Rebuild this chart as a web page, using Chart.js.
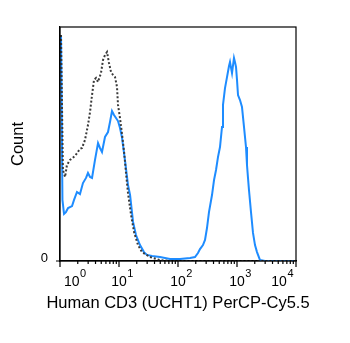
<!DOCTYPE html>
<html>
<head>
<meta charset="utf-8">
<script src="https://cdn.jsdelivr.net/npm/chart.js@4/dist/chart.umd.min.js"></script>
<style>
  html, body { margin: 0; padding: 0; background: #fff; }
  canvas { display: block; }
</style>
</head>
<body>
<canvas id="histo" width="350" height="343"></canvas>
<script>
// ---- values (x = fluorescence, y = % of max count) ----
const stainedX = [1.04, 1.10, 1.17, 1.26, 1.37, 1.60, 1.73, 1.94, 2.18, 2.45, 2.76, 2.98, 3.23, 3.49, 3.92, 4.41, 4.76, 5.15, 5.79, 6.51,
  7.04, 7.61, 8.23, 8.90, 9.62, 10.4, 11.2, 12.6, 14.2, 15.4, 17.3, 19.4, 22.7, 26.5, 29.8, 36.3, 49.5, 73.2, 108, 160,
  194, 218, 236, 265, 287, 310, 335, 377, 408, 441, 476, 515, 557, 579, 626, 677, 732, 761, 823, 889,
  925, 962, 1000, 1040, 1124, 1215, 1314, 1421, 1477, 1536, 1597, 1727, 1867, 2019, 2183, 2454, 2983, 10000];
const stainedY = [96.6, 26.1, 20.1, 20.9, 22.6, 23.5, 26.1, 29.5, 28.6, 33.3, 35.5, 37.6, 35.9, 35.5, 43.2, 50.4, 48.3, 46.6, 53.0, 55.1,
  59.4, 64.1, 62.4, 61.1, 59.8, 56.8, 53.0, 43.2, 32.5, 28.2, 16.7, 11.1, 6.8, 3.8, 2.6, 2.1, 1.7, 0.9, 0.9, 1.3,
  1.7, 3.4, 5.1, 6.8, 9.0, 14.1, 20.9, 28.2, 34.6, 38.9, 44.4, 48.7, 57.3, 66.7, 73.9, 78.6, 83.3, 85.0, 80.3, 86.8,
  85.0, 82.9, 77.4, 70.9, 68.8, 65.8, 57.3, 48.7, 41.0, 35.5, 30.3, 20.9, 12.0, 6.8, 3.8, 0.4, 0, 0];

// isotype / unstained control (dotted)
const controlX = [1.04, 1.12, 1.22, 1.31, 1.48, 1.80, 2.18, 2.36, 2.65, 2.98, 3.23, 3.49, 3.77, 4.08, 4.41, 4.95, 5.36, 5.79, 6.26, 6.77,
  7.32, 7.91, 8.56, 9.25, 9.62, 10.4, 11.2, 12.2, 13.1, 14.2, 16.0, 18.0, 21.0, 24.5, 33.5, 49.5, 73.2, 10000];
const controlY = [96.6, 38.9, 35.9, 41.0, 43.2, 44.9, 47.9, 48.3, 51.7, 58.1, 63.7, 70.9, 77.4, 78.2, 76.5, 80.3, 85.9, 88.0, 89.3, 84.6,
  80.8, 79.5, 78.6, 74.4, 66.7, 61.1, 54.7, 46.6, 38.0, 29.1, 19.7, 12.4, 6.8, 3.8, 1.7, 0.4, 0, 0];

const decadeTicks = [1, 10, 100, 1000, 10000];
const decadeExponents = ['0', '1', '2', '3', '4'];
const yTickValues = [0];
const yTickLabels = ['0'];
const xTitle = 'Human CD3 (UCHT1) PerCP-Cy5.5';
const yTitle = 'Count';

const fontFam = '"Liberation Sans", Arial, sans-serif';

function toPoints(xs, ys) {
  return xs.map(function(x, i) { return { x: x, y: ys[i] }; });
}

// frame, log tick marks, "10^n" labels and axis titles
const axisDecor = {
  id: 'axisDecor',
  afterDraw(chart) {
    const ctx = chart.ctx;
    const area = chart.chartArea;
    const xs = chart.scales.x;
    const ys = chart.scales.y;
    ctx.save();
    ctx.strokeStyle = '#000';
    ctx.lineWidth = 1.2;
    ctx.strokeRect(area.left, area.top, area.right - area.left, area.bottom - area.top);

    ctx.beginPath();
    decadeTicks.forEach(function(v, i) {
      const px = xs.getPixelForValue(v);
      ctx.moveTo(px, area.bottom);
      ctx.lineTo(px, area.bottom + 6);
      if (i < decadeTicks.length - 1) {
        for (let m = 2; m <= 9; m++) {
          const mx = xs.getPixelForValue(v * m);
          ctx.moveTo(mx, area.bottom);
          ctx.lineTo(mx, area.bottom + 3);
        }
      }
    });
    yTickValues.forEach(function(v) {
      const py = ys.getPixelForValue(v);
      ctx.moveTo(area.left - 4, py);
      ctx.lineTo(area.left, py);
    });
    ctx.stroke();

    ctx.fillStyle = '#000';
    ctx.textBaseline = 'alphabetic';
    ctx.textAlign = 'left';
    decadeTicks.forEach(function(v, i) {
      const px = xs.getPixelForValue(v);
      ctx.font = '14px ' + fontFam;
      const baseW = ctx.measureText('10').width;
      ctx.font = '11px ' + fontFam;
      const expW = ctx.measureText(decadeExponents[i]).width;
      const total = baseW + expW;
      let x0 = px + 3 - total / 2;
      x0 = Math.max(x0, area.left + 4);
      x0 = Math.min(x0, area.right - 3 - total);
      ctx.font = '14px ' + fontFam;
      ctx.fillText('10', x0, area.bottom + 25);
      ctx.font = '11px ' + fontFam;
      ctx.fillText(decadeExponents[i], x0 + baseW + 0.5, area.bottom + 16);
    });

    ctx.font = '13px ' + fontFam;
    ctx.textAlign = 'right';
    yTickValues.forEach(function(v, i) {
      const py = ys.getPixelForValue(v);
      ctx.fillText(yTickLabels[i], area.left - 12, py + 1);
    });

    // axis titles
    ctx.font = '16.5px ' + fontFam;
    ctx.textAlign = 'center';
    ctx.fillText(xTitle, (area.left + area.right) / 2, area.bottom + 47);
    ctx.translate(23, (area.top + area.bottom) / 2);
    ctx.rotate(-Math.PI / 2);
    ctx.fillText(yTitle, 0, 0);
    ctx.restore();
  }
};

new Chart(document.getElementById('histo'), {
  type: 'line',
  data: {
    datasets: [
      {
        label: 'control',
        data: toPoints(controlX, controlY),
        borderColor: '#3a3a3a',
        borderWidth: 2,
        borderDash: [2, 2],
        pointRadius: 0,
        tension: 0,
        fill: false
      },
      {
        label: 'CD3',
        data: toPoints(stainedX, stainedY),
        borderColor: '#1e8cff',
        borderWidth: 2,
        pointRadius: 0,
        tension: 0,
        fill: false
      }
    ]
  },
  options: {
    responsive: false,
    animation: false,
    devicePixelRatio: 1,
    layout: { padding: { left: 0, top: 27, right: 54, bottom: 0 } },
    plugins: { legend: { display: false }, tooltip: { enabled: false } },
    scales: {
      x: {
        type: 'logarithmic',
        min: 1,
        max: 10000,
        ticks: { display: false },
        grid: { display: false, drawTicks: false },
        border: { display: true, color: '#000', width: 1.2 },
        afterFit: function(scale) { scale.height = 82; }
      },
      y: {
        min: 0,
        max: 100,
        ticks: { display: false },
        grid: { display: false, drawTicks: false },
        border: { display: true, color: '#000', width: 1.2 },
        afterFit: function(scale) { scale.width = 60; }
      }
    }
  },
  plugins: [axisDecor]
});
</script>
</body>
</html>
